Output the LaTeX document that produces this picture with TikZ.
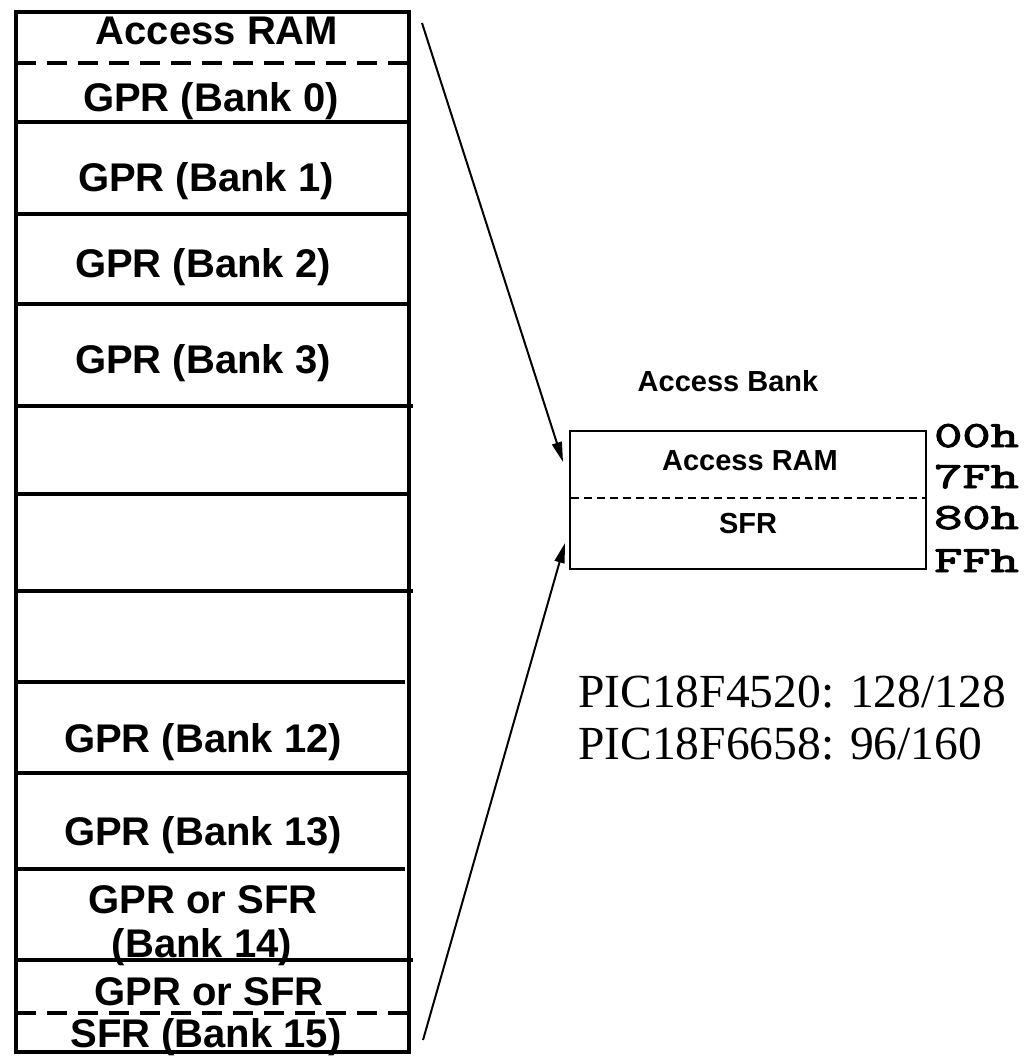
\documentclass[tikz,border=0pt]{standalone}
\usepackage{fontspec}
\setmainfont{Liberation Serif}
\newfontfamily\arialf{Liberation Sans}
\newfontfamily\courf[BoldFont={Latin Modern Mono}, BoldFeatures={FakeBold=2.5}]{Latin Modern Mono}
\usetikzlibrary{arrows.meta}
\begin{document}
\begin{tikzpicture}[x=1pt,y=-1pt,
  colline/.style={line width=4pt},
  coldash/.style={line width=4pt, dash pattern=on 20pt off 11pt},
  lab/.style={font=\arialf\bfseries\fontsize{40}{44}\selectfont, inner sep=0pt, anchor=base},
  smalllab/.style={font=\arialf\bfseries\fontsize{29}{32}\selectfont, inner sep=0pt, anchor=base},
  hexlab/.style={font=\courf\bfseries\fontsize{37}{38}\selectfont, inner sep=0pt, anchor=base west},
  serlab/.style={font=\fontsize{47.5}{52}\selectfont, inner sep=0pt, anchor=base west},
  arr/.style={line width=2pt, -{Triangle[length=20pt,width=10pt]}}
]
\useasboundingbox (0,0) rectangle (1034,1059);

% left memory column
\draw[colline] (16,12) rectangle (409,1052);
\draw[coldash] (16,63) -- (409,63);
\draw[colline] (16,122) -- (409,122);
\draw[colline] (16,214) -- (409,214);
\draw[colline] (16,304) -- (409,304);
\draw[colline] (16,406) -- (413,406);
\draw[colline] (16,494) -- (409,494);
\draw[colline] (16,591) -- (413,591);
\draw[colline] (16,682) -- (405,682);
\draw[colline] (16,773) -- (409,773);
\draw[colline] (16,869) -- (405,869);
\draw[colline] (16,960) -- (413,960);
\draw[coldash] (16,1013) -- (409,1013);

\node[lab] (t0) at (217,45) {Access RAM};
\node[lab] (t1) at (211,112) {GPR (Bank 0)};
\node[lab] (t2) at (206,192) {GPR (Bank 1)};
\node[lab] (t3) at (203,277) {GPR (Bank 2)};
\node[lab] (t4) at (203,373) {GPR (Bank 3)};
\node[lab] (t12) at (203,752) {GPR (Bank 12)};
\node[lab] (t13) at (203,845) {GPR (Bank 13)};
\node[lab] (t14a) at (203,913) {GPR or SFR};
\node[lab] (t14b) at (202,957) {(Bank 14)};
\node[lab] (t15a) at (209,1005) {GPR or SFR};
\node[lab] (t15b) at (206,1047) {SFR (Bank 15)};

% access bank
\node[smalllab] (abt) at (728,391) {Access Bank};
\node[draw, line width=2pt, minimum width=356pt, minimum height=138pt, inner sep=0pt] (ab) at (748,500) {};
\draw[line width=1.5pt, dash pattern=on 8pt off 5pt] (571,498) -- (925,498);
\node[smalllab] (abram) at (750,470) {Access RAM};
\node[smalllab] (absfr) at (748,533) {SFR};

\node[hexlab] (h0) at (934,447) {\scalebox{1.48}[1]{00h}};
\node[hexlab] (h1) at (934,488) {\scalebox{1.48}[1]{7Fh}};
\node[hexlab] (h2) at (934,529) {\scalebox{1.48}[1]{80h}};
\node[hexlab] (h3) at (934,572) {\scalebox{1.48}[1]{FFh}};

\node[serlab] (p1) at (578,707) {PIC18F4520: 128/128};
\node[serlab] (p2) at (578,759) {PIC18F6658: 96/160};

% arrows
\coordinate (a1s) at (422,23);
\coordinate (a1e) at (563,462);
\coordinate (a2s) at (423,1040);
\coordinate (a2e) at (565,543);
\draw[arr] (a1s) -- (a1e);
\draw[arr] (a2s) -- (a2e);
\end{tikzpicture}
\end{document}
